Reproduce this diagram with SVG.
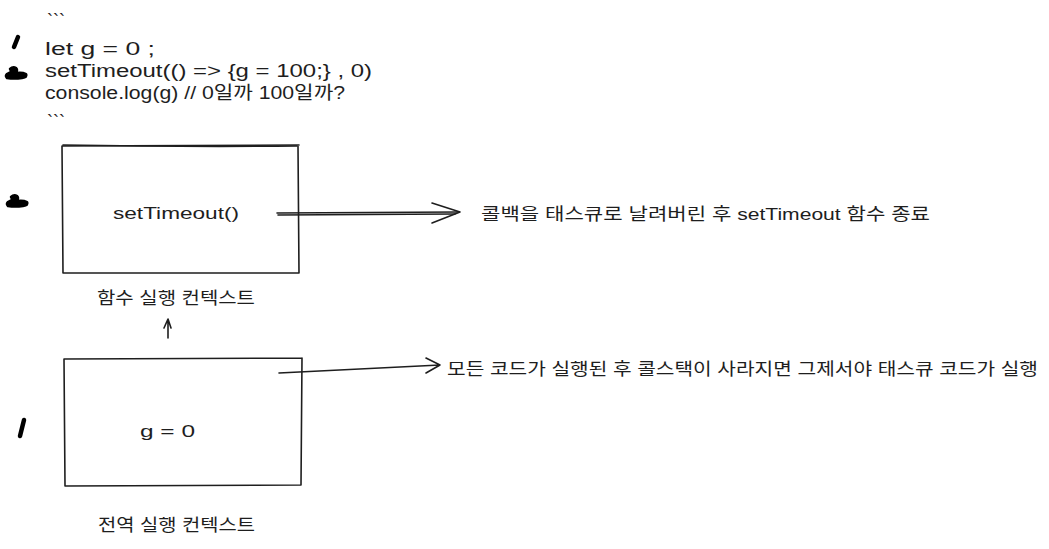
<svg xmlns="http://www.w3.org/2000/svg" width="1049" height="549" viewBox="0 0 1049 549">
<style>
.t{font-family:"Liberation Sans","Noto Sans CJK KR",sans-serif;fill:#1e1e1e}
.code{font-size:18px}
.lbl{font-size:17px}
.ln{fill:none;stroke:#1e1e1e;stroke-width:1.6;stroke-linecap:round;stroke-linejoin:round}
.mk{fill:none;stroke:#000;stroke-width:4.5;stroke-linecap:round;stroke-linejoin:round}
.blob{fill:#000;stroke:#000;stroke-width:2.5;stroke-linejoin:round}
</style>
<rect width="1049" height="549" fill="#fff"/>
<g id="code">
<text class="t code" x="47" y="27">```</text>
<text class="t code" x="45" y="55" textLength="110" lengthAdjust="spacingAndGlyphs">let g = 0 ;</text>
<text class="t code" x="45" y="77" textLength="327" lengthAdjust="spacingAndGlyphs">setTimeout(() =&gt; {g = 100;} , 0)</text>
<text class="t code" x="45" y="99" textLength="300" lengthAdjust="spacingAndGlyphs">console.log(g) // 0일까 100일까?</text>
<text class="t code" x="47" y="128">```</text>
</g>
<g id="markers">
<path class="mk" d="M14 47 L18 37"/>
<path class="blob" d="M10 69 Q13 66 16 68 Q18 70 16 73 Q22 72 26 74 Q28 77 22 78 Q14 79 7 78 Q5 76 7 74 Q10 72 13 72 Q14 70 11 71 Z"/>
<path class="blob" d="M11 197 Q14 194 17 196 Q19 198 17 201 Q23 200 27 202 Q29 205 23 206 Q15 207 8 206 Q6 204 8 202 Q11 200 14 200 Q15 198 12 199 Z"/>
<path class="mk" d="M20 436 L24 420"/>
</g>
<g id="func-ctx">
<path class="ln" d="M62 146 L299 145 M62 146 L63 273 M63 273 L299 273 M298 146 L299 273"/>
<path class="ln" d="M63 145 Q180 147 297 146" stroke-width="0.8"/>
<text class="t lbl" x="113" y="219" textLength="126" lengthAdjust="spacingAndGlyphs">setTimeout()</text>
<text class="t lbl" x="97" y="304" textLength="158" lengthAdjust="spacingAndGlyphs">함수 실행 컨텍스트</text>
</g>
<g id="global-ctx">
<path class="ln" d="M64 359 L302 358 M64 359 L65 486 M65 486 L301 485 M302 358 L301 485"/>
<text class="t lbl" x="140" y="437" textLength="55" lengthAdjust="spacingAndGlyphs">g = 0</text>
<text class="t lbl" x="98" y="531" textLength="157" lengthAdjust="spacingAndGlyphs">전역 실행 컨텍스트</text>
</g>
<g id="connectors">
<path class="ln" d="M277 213 L459 212 M278 215 L455 214" stroke-width="1.2"/>
<path class="ln" d="M432 203 L460 212 L432 223"/>
<path class="ln" d="M168 338 L168 320 M164 328 L168 319 L171 328"/>
<path class="ln" d="M279 373 L440 365 M426 358 L440 365 L426 373"/>
</g>
<g id="notes">
<text class="t lbl" x="481" y="220" textLength="449" lengthAdjust="spacingAndGlyphs">콜백을 태스큐로 날려버린 후 setTimeout 함수 종료</text>
<text class="t lbl" x="447" y="375" textLength="591" lengthAdjust="spacingAndGlyphs">모든 코드가 실행된 후 콜스택이 사라지면 그제서야 태스큐 코드가 실행</text>
</g>
</svg>
